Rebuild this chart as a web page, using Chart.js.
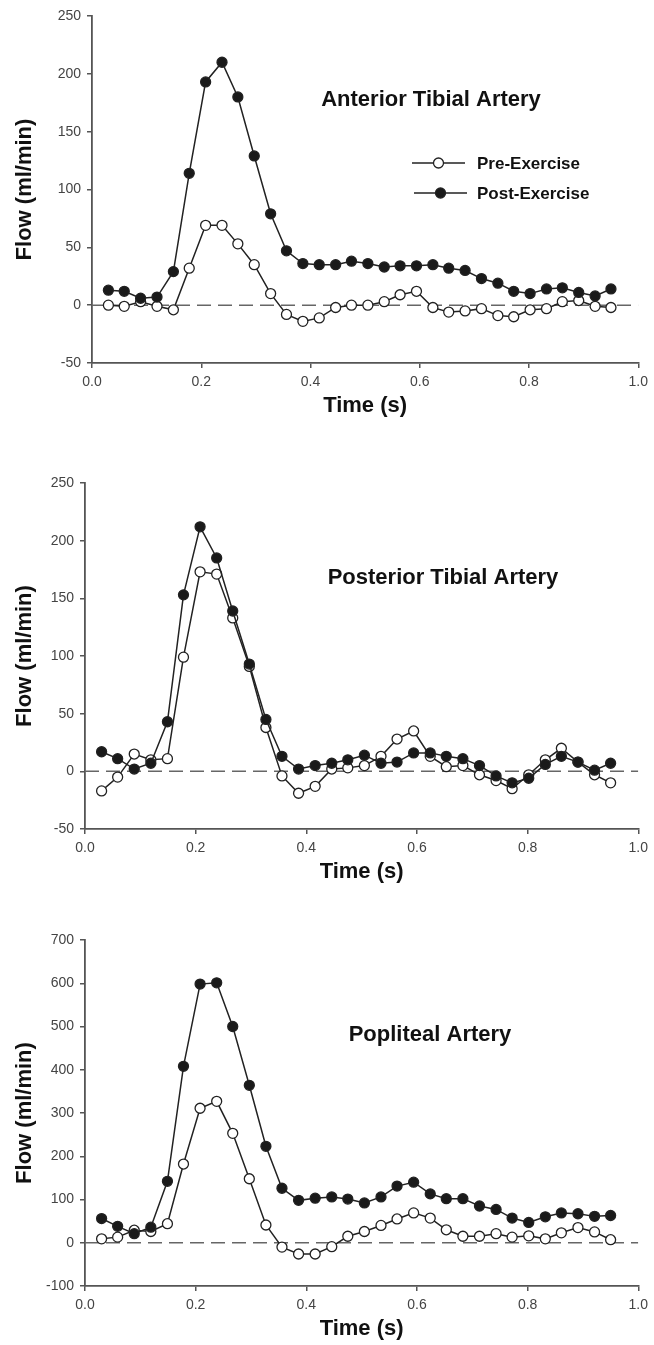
<!DOCTYPE html>
<html>
<head>
<meta charset="utf-8">
<script src="https://cdn.jsdelivr.net/npm/chart.js@4.4.1/dist/chart.umd.min.js"></script>
<style>
  html, body { margin: 0; padding: 0; background: #fff; width: 654px; height: 1345px; overflow: hidden; }
  canvas { position: absolute; left: 0; }
</style>
</head>
<body>
<canvas id="anterior" width="654" height="422" style="top:0px"></canvas>
<canvas id="posterior" width="654" height="428" style="top:460px"></canvas>
<canvas id="popliteal" width="654" height="430" style="top:915px"></canvas>
<script>
// --- Dados ---
const tempos = [0.030, 0.059, 0.089, 0.119, 0.149, 0.178, 0.208, 0.238, 0.267, 0.297,
                0.327, 0.356, 0.386, 0.416, 0.446, 0.475, 0.505, 0.535, 0.564, 0.594,
                0.624, 0.653, 0.683, 0.713, 0.743, 0.772, 0.802, 0.832, 0.861, 0.891,
                0.921, 0.950];

const anteriorPre = [0, -1, 3, -1, -4, 32, 69, 69, 53, 35,
                     10, -8, -14, -11, -2, 0, 0, 3, 9, 12,
                     -2, -6, -5, -3, -9, -10, -4, -3, 3, 4,
                     -1, -2];
const anteriorPost = [13, 12, 6, 7, 29, 114, 193, 210, 180, 129,
                      79, 47, 36, 35, 35, 38, 36, 33, 34, 34,
                      35, 32, 30, 23, 19, 12, 10, 14, 15, 11,
                      8, 14];

const posteriorPre = [-17, -5, 15, 10, 11, 99, 173, 171, 133, 91,
                      38, -4, -19, -13, 2, 3, 5, 13, 28, 35,
                      13, 4, 5, -3, -8, -15, -3, 10, 20, 8,
                      -3, -10];
const posteriorPost = [17, 11, 2, 7, 43, 153, 212, 185, 139, 93,
                       45, 13, 2, 5, 7, 10, 14, 7, 8, 16,
                       16, 13, 11, 5, -4, -10, -6, 6, 13, 8,
                       1, 7];

const popliteaPre = [9, 13, 29, 26, 44, 182, 311, 327, 253, 148,
                     41, -10, -26, -26, -9, 15, 26, 40, 55, 69,
                     57, 30, 15, 15, 21, 13, 16, 9, 23, 35,
                     25, 7];
const popliteaPost = [56, 38, 21, 36, 142, 408, 598, 601, 500, 364,
                      223, 126, 98, 103, 106, 101, 92, 106, 131, 140,
                      113, 102, 102, 85, 77, 57, 47, 60, 69, 67,
                      61, 63];

const ticksX = [0, 0.2, 0.4, 0.6, 0.8, 1.0];

// --- Estilos ---
const FONTE = "'Liberation Sans', Arial, sans-serif";
const COR_EIXO = '#555';
const COR_LINHA = '#222';
const RAIO = 5;

function pontos(valores) {
    return tempos.map((t, i) => ({ x: t, y: valores[i] }));
}

// titulo dentro do grafico + legenda opcional
const anotacoesPlugin = {
    id: 'anotacoes',
    afterDatasetsDraw(chart, args, opts) {
        const ctx = chart.ctx;
        ctx.save();
        ctx.fillStyle = '#111';
        ctx.font = `bold 22px ${FONTE}`;
        ctx.textAlign = 'center';
        ctx.textBaseline = 'middle';
        ctx.fillText(opts.titulo, opts.tx, opts.ty);

        if (opts.legenda) {
            opts.legenda.forEach(item => {
                ctx.strokeStyle = COR_LINHA;
                ctx.lineWidth = 1.5;
                ctx.beginPath();
                ctx.moveTo(item.x0, item.y);
                ctx.lineTo(item.x1, item.y);
                ctx.stroke();
                ctx.beginPath();
                ctx.arc((item.x0 + item.x1) / 2, item.y, RAIO, 0, Math.PI * 2);
                ctx.fillStyle = item.cheio ? '#1a1a1a' : '#fff';
                ctx.fill();
                ctx.lineWidth = 1.3;
                ctx.stroke();
                ctx.fillStyle = '#111';
                ctx.font = `bold 17px ${FONTE}`;
                ctx.textAlign = 'left';
                ctx.fillText(item.texto, item.tx, item.y + 1);
            });
        }
        ctx.restore();
    }
};

function criarPainel(id, pre, post, cfg) {
    const ctx = document.getElementById(id);
    return new Chart(ctx, {
        type: 'line',
        data: {
            datasets: [
                {
                    label: 'Post-Exercise',
                    data: pontos(post),
                    borderColor: COR_LINHA,
                    borderWidth: 1.5,
                    pointRadius: RAIO,
                    pointBorderWidth: 1.3,
                    pointBackgroundColor: '#1a1a1a',
                    pointBorderColor: '#222',
                    tension: 0
                },
                {
                    label: 'Pre-Exercise',
                    data: pontos(pre),
                    borderColor: COR_LINHA,
                    borderWidth: 1.5,
                    pointRadius: RAIO,
                    pointBorderWidth: 1.3,
                    pointBackgroundColor: '#fff',
                    pointBorderColor: '#222',
                    tension: 0
                },
                {
                    label: 'zero',
                    data: [{ x: 0, y: 0 }, { x: 1, y: 0 }],
                    borderColor: '#666',
                    borderWidth: 1.5,
                    borderDash: [14, 7],
                    pointRadius: 0
                }
            ]
        },
        options: {
            responsive: false,
            animation: false,
            layout: { padding: { top: cfg.topo, right: 11, left: 0, bottom: 0 } },
            plugins: {
                legend: { display: false },
                tooltip: { enabled: false },
                anotacoes: cfg.anotacoes
            },
            scales: {
                x: {
                    type: 'linear',
                    min: 0,
                    max: 1,
                    afterBuildTicks: s => { s.ticks = ticksX.map(v => ({ value: v })); },
                    afterFit: s => { s.height = 59; },
                    grid: { drawOnChartArea: false, drawTicks: true, tickLength: 5, color: COR_EIXO, lineWidth: 1.5 },
                    border: { color: COR_EIXO, width: 1.8 },
                    ticks: {
                        padding: 6,
                        color: '#444',
                        font: { family: FONTE, size: 14 },
                        callback: v => v.toFixed(1),
                        maxRotation: 0
                    },
                    title: {
                        display: true,
                        text: 'Time (s)',
                        color: '#111',
                        font: { family: FONTE, size: 22, weight: 'bold' },
                        padding: { top: 0, bottom: 3 }
                    }
                },
                y: {
                    min: cfg.ymin,
                    max: cfg.ymax,
                    afterFit: s => { s.width = cfg.esquerda; },
                    grid: { drawOnChartArea: false, drawTicks: true, tickLength: 5, color: COR_EIXO, lineWidth: 1.5 },
                    border: { color: COR_EIXO, width: 1.8 },
                    ticks: {
                        stepSize: cfg.passo,
                        padding: 6,
                        color: '#444',
                        font: { family: FONTE, size: 14 }
                    },
                    title: {
                        display: true,
                        text: 'Flow (ml/min)',
                        color: '#111',
                        font: { family: FONTE, size: 22, weight: 'bold' },
                        padding: { top: 12, bottom: 0 }
                    }
                }
            }
        },
        plugins: [anotacoesPlugin]
    });
}

function inicializar() {
    criarPainel('anterior', anteriorPre, anteriorPost, {
        topo: 16, esquerda: 92, ymin: -50, ymax: 250, passo: 50,
        anotacoes: {
            titulo: 'Anterior Tibial Artery', tx: 431, ty: 100,
            legenda: [
                { texto: 'Pre-Exercise', x0: 412, x1: 465, y: 163, tx: 477, cheio: false },
                { texto: 'Post-Exercise', x0: 414, x1: 467, y: 193, tx: 477, cheio: true }
            ]
        }
    });
    criarPainel('posterior', posteriorPre, posteriorPost, {
        topo: 23, esquerda: 85, ymin: -50, ymax: 250, passo: 50,
        anotacoes: { titulo: 'Posterior Tibial Artery', tx: 443, ty: 118 }
    });
    criarPainel('popliteal', popliteaPre, popliteaPost, {
        topo: 25, esquerda: 85, ymin: -100, ymax: 700, passo: 100,
        anotacoes: { titulo: 'Popliteal Artery', tx: 430, ty: 120 }
    });
}

window.onload = inicializar;
</script>
</body>
</html>
